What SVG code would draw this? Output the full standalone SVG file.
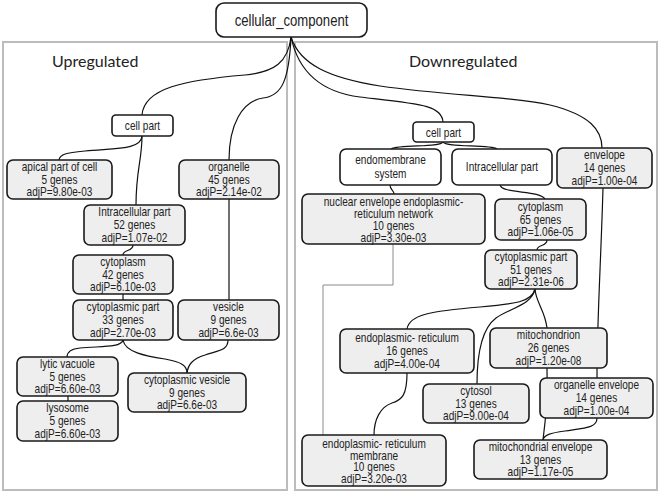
<svg xmlns="http://www.w3.org/2000/svg" width="661" height="495" viewBox="0 0 661 495">
<style>
.bg{fill:#ffffff}
.panel{fill:none;stroke:#bcbcbc;stroke-width:2}
.head{font-family:Lato,"Open Sans",sans-serif;font-size:16px;fill:#222}
.n rect{stroke:#1a1a1a;stroke-width:1.6}
.w rect{fill:#ffffff}
.g rect{fill:#eeeeee}
.n text{font-family:"Liberation Sans",Arial,sans-serif;font-size:12px;fill:#222;text-anchor:middle}
.title text{font-size:16px}
.e path{fill:none;stroke:#111;stroke-width:1.2}
.e path.gray{stroke:#8a8a8a;stroke-width:1}
</style>
<rect class="bg" x="0" y="0" width="661" height="495"/>
<rect class="panel" x="3" y="42" width="284" height="448"/>
<rect class="panel" x="295" y="42" width="362" height="448"/>
<text class="head" x="52" y="67">Upregulated</text>
<text class="head" x="409" y="67">Downregulated</text>

<g id="connectors" class="e">
<path d="M291,37 C288,62 275,72 245,75 C185,80 144,88 142,115"/>
<path d="M291,37 C289,80 282,96 263,98 C242,101 229,125 229,160"/>
<path d="M291,37 C298,70 320,92 360,97 C420,104 442,105 443,122"/>
<path d="M291,37 C300,65 330,78 380,86 C450,96 510,96 550,105 C590,115 602,130 602,148"/>
<path d="M142,136 C141,150 115,148 85,151 C66,153 60,154 59,160"/>
<path d="M142,136 C142,160 136,170 136,205"/>
<path d="M229,199 V300"/>
<path d="M133,245 C133,252 123,249 123,255"/>
<path d="M123,294 V300"/>
<path d="M123,340 C121,348 100,346 80,348 C70,349 67,352 67,357"/>
<path d="M123,340 C125,352 145,356 165,359 C182,362 187,366 187,373"/>
<path d="M228,340 C228,350 220,350 205,355 C192,359 188,365 187,373"/>
<path d="M68,396 V401"/>
<path d="M443,142 C440,148 400,144 391,149"/>
<path d="M443,142 C446,148 490,144 497,149"/>
<path d="M390,185 C390,190 394,190 394,194"/>
<path d="M500,185 C502,194 540,190 545,199"/>
<path d="M547,240 C547,247 537,244 537,250"/>
<path d="M535,289 C532,302 515,304 480,307 C430,311 409,315 407,329"/>
<path d="M535,289 C532,305 510,308 496,318 C480,330 477,360 477,384"/>
<path d="M535,289 C536,303 545,310 547,328"/>
<path d="M547,368 C548,400 545,425 543,440"/>
<path d="M603,188 C601,260 597,320 597,378"/>
<path d="M597,418 C597,428 585,428 565,431 C550,433 544,435 543,440"/>
<path d="M407,373 C407,395 402,400 392,403 C380,407 374,420 374,435"/>
<path class="gray" d="M393,244 V285 H323 V435"/>
</g>

<g id="cellular_component" class="n w title"><rect x="216" y="3" width="151" height="34" rx="8"/><text transform="matrix(.82 0 0 1 291.5 26)">cellular_component</text></g>

<g id="up_cell_part" class="n w"><rect x="112" y="115" width="61" height="21" rx="4"/><text transform="matrix(.84 0 0 1 142.5 130)">cell part</text></g>
<g id="up_apical" class="n g"><rect x="7" y="160" width="105" height="39" rx="6"/><text transform="matrix(.84 0 0 1 59.5 179.5)"><tspan x="0" y="-9">apical part of cell</tspan><tspan x="0" y="4">5 genes</tspan><tspan x="0" y="17">adjP=9.80e-03</tspan></text></g>
<g id="up_organelle" class="n g"><rect x="179" y="160" width="100" height="39" rx="6"/><text transform="matrix(.84 0 0 1 229 179.5)"><tspan x="0" y="-9">organelle</tspan><tspan x="0" y="4">45 genes</tspan><tspan x="0" y="17">adjP=2.14e-02</tspan></text></g>
<g id="up_intracellular" class="n g"><rect x="84" y="205" width="101" height="40" rx="6"/><text transform="matrix(.84 0 0 1 134.5 225)"><tspan x="0" y="-9">Intracellular part</tspan><tspan x="0" y="4">52 genes</tspan><tspan x="0" y="17">adjP=1.07e-02</tspan></text></g>
<g id="up_cytoplasm" class="n g"><rect x="73" y="255" width="100" height="39" rx="6"/><text transform="matrix(.84 0 0 1 123 274.5)"><tspan x="0" y="-9">cytoplasm</tspan><tspan x="0" y="4">42 genes</tspan><tspan x="0" y="17">adjP=6.10e-03</tspan></text></g>
<g id="up_cytoplasmic_part" class="n g"><rect x="73" y="300" width="100" height="40" rx="6"/><text transform="matrix(.84 0 0 1 123 320)"><tspan x="0" y="-9">cytoplasmic part</tspan><tspan x="0" y="4">33 genes</tspan><tspan x="0" y="17">adjP=2.70e-03</tspan></text></g>
<g id="up_vesicle" class="n g"><rect x="178" y="300" width="101" height="40" rx="6"/><text transform="matrix(.84 0 0 1 228.5 320)"><tspan x="0" y="-9">vesicle</tspan><tspan x="0" y="4">9 genes</tspan><tspan x="0" y="17">adjP=6.6e-03</tspan></text></g>
<g id="up_lytic_vacuole" class="n g"><rect x="17" y="357" width="101" height="39" rx="6"/><text transform="matrix(.84 0 0 1 67.5 376.5)"><tspan x="0" y="-9">lytic vacuole</tspan><tspan x="0" y="4">5 genes</tspan><tspan x="0" y="17">adjP=6.60e-03</tspan></text></g>
<g id="up_lysosome" class="n g"><rect x="17" y="401" width="101" height="40" rx="6"/><text transform="matrix(.84 0 0 1 67.5 421)"><tspan x="0" y="-9">lysosome</tspan><tspan x="0" y="4">5 genes</tspan><tspan x="0" y="17">adjP=6.60e-03</tspan></text></g>
<g id="up_cytoplasmic_vesicle" class="n g"><rect x="128" y="373" width="118" height="39" rx="6"/><text transform="matrix(.84 0 0 1 187 392.5)"><tspan x="0" y="-9">cytoplasmic vesicle</tspan><tspan x="0" y="4">9 genes</tspan><tspan x="0" y="17">adjP=6.6e-03</tspan></text></g>

<g id="down_cell_part" class="n w"><rect x="413" y="122" width="61" height="20" rx="4"/><text transform="matrix(.84 0 0 1 443.5 136.5)">cell part</text></g>
<g id="down_endomembrane" class="n w"><rect x="340" y="149" width="101" height="36" rx="6"/><text transform="matrix(.84 0 0 1 390.5 167)"><tspan x="0" y="-3">endomembrane</tspan><tspan x="0" y="11">system</tspan></text></g>
<g id="down_intracellular" class="n w"><rect x="452" y="149" width="100" height="36" rx="6"/><text transform="matrix(.84 0 0 1 502 171)">Intracellular part</text></g>
<g id="down_envelope" class="n g"><rect x="557" y="148" width="95" height="40" rx="6"/><text transform="matrix(.84 0 0 1 604.5 168)"><tspan x="0" y="-9">envelope</tspan><tspan x="0" y="4">14 genes</tspan><tspan x="0" y="17">adjP=1.00e-04</tspan></text></g>
<g id="down_nuclear_envelope" class="n g"><rect x="302" y="194" width="183" height="50" rx="6"/><text transform="matrix(.84 0 0 1 393.5 219)"><tspan x="0" y="-13">nuclear  envelope endoplasmic-</tspan><tspan x="0" y="-1">reticulum network</tspan><tspan x="0" y="11">10 genes</tspan><tspan x="0" y="23">adjP=3.30e-03</tspan></text></g>
<g id="down_cytoplasm" class="n g"><rect x="495" y="199" width="91" height="41" rx="6"/><text transform="matrix(.84 0 0 1 540.5 219.5)"><tspan x="0" y="-9">cytoplasm</tspan><tspan x="0" y="4">65 genes</tspan><tspan x="0" y="17">adjP=1.06e-05</tspan></text></g>
<g id="down_cytoplasmic_part" class="n g"><rect x="485" y="250" width="92" height="39" rx="6"/><text transform="matrix(.84 0 0 1 531 269.5)"><tspan x="0" y="-9">cytoplasmic part</tspan><tspan x="0" y="4">51 genes</tspan><tspan x="0" y="17">adjP=2.31e-06</tspan></text></g>
<g id="down_er" class="n g"><rect x="340" y="329" width="134" height="44" rx="6"/><text transform="matrix(.84 0 0 1 407 351)"><tspan x="0" y="-9">endoplasmic- reticulum</tspan><tspan x="0" y="4">16 genes</tspan><tspan x="0" y="17">adjP=4.00e-04</tspan></text></g>
<g id="down_mitochondrion" class="n g"><rect x="490" y="328" width="117" height="40" rx="6"/><text transform="matrix(.84 0 0 1 548.5 348)"><tspan x="0" y="-9">mitochondrion</tspan><tspan x="0" y="4">26 genes</tspan><tspan x="0" y="17">adjP=1.20e-08</tspan></text></g>
<g id="down_cytosol" class="n g"><rect x="423" y="384" width="106" height="39" rx="6"/><text transform="matrix(.84 0 0 1 476 403.5)"><tspan x="0" y="-9">cytosol</tspan><tspan x="0" y="4">13 genes</tspan><tspan x="0" y="17">adjP=9.00e-04</tspan></text></g>
<g id="down_organelle_envelope" class="n g"><rect x="540" y="378" width="113" height="40" rx="6"/><text transform="matrix(.84 0 0 1 596.5 398)"><tspan x="0" y="-9">organelle envelope</tspan><tspan x="0" y="4">14 genes</tspan><tspan x="0" y="17">adjP=1.00e-04</tspan></text></g>
<g id="down_er_membrane" class="n g"><rect x="302" y="435" width="144" height="51" rx="6"/><text transform="matrix(.84 0 0 1 374 460.5)"><tspan x="0" y="-13">endoplasmic- reticulum</tspan><tspan x="0" y="-1">membrane</tspan><tspan x="0" y="11">10 genes</tspan><tspan x="0" y="23">adjP=3.20e-03</tspan></text></g>
<g id="down_mitochondrial_envelope" class="n g"><rect x="474" y="440" width="133" height="39" rx="6"/><text transform="matrix(.84 0 0 1 540.5 459.5)"><tspan x="0" y="-9">mitochondrial envelope</tspan><tspan x="0" y="4">13 genes</tspan><tspan x="0" y="17">adjP=1.17e-05</tspan></text></g>
</svg>
